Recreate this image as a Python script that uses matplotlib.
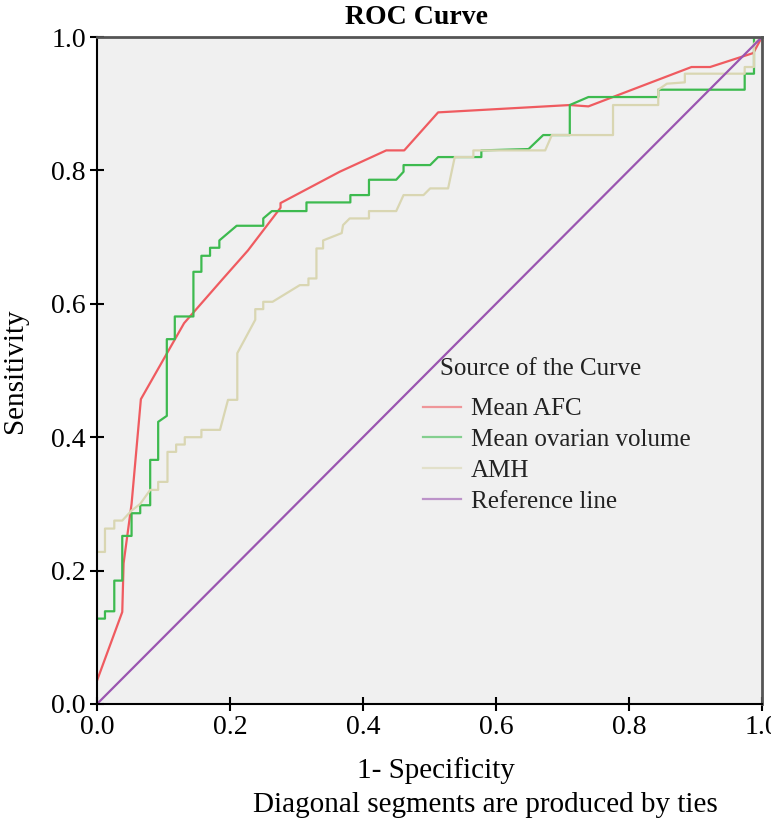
import matplotlib
matplotlib.use('Agg')
import matplotlib.pyplot as plt
from matplotlib.lines import Line2D

# ROC points (1-specificity, sensitivity)
afc_x = [0.0, 0.038, 0.040, 0.052, 0.066, 0.131, 0.188, 0.227, 0.276, 0.276, 0.365,
         0.435, 0.462, 0.513, 0.711, 0.739, 0.894, 0.922, 0.987, 1.0]
afc_y = [0.035, 0.138, 0.211, 0.300, 0.457, 0.571, 0.636, 0.680, 0.744, 0.751, 0.798,
         0.830, 0.830, 0.887, 0.898, 0.896, 0.955, 0.955, 0.976, 1.0]

vol_x = [0.0, 0.012, 0.012, 0.026, 0.026, 0.038, 0.038, 0.052, 0.052, 0.065, 0.065, 0.080,
         0.080, 0.092, 0.092, 0.105, 0.105, 0.117, 0.117, 0.145, 0.145, 0.157, 0.157, 0.170,
         0.170, 0.184, 0.184, 0.210, 0.250, 0.250, 0.263, 0.315, 0.315, 0.381, 0.381, 0.409,
         0.409, 0.450, 0.461, 0.461, 0.501, 0.513, 0.578, 0.578, 0.649, 0.671, 0.711, 0.711,
         0.739, 0.844, 0.844, 0.974, 0.974, 0.988, 0.988, 1.0]
vol_y = [0.128, 0.128, 0.139, 0.139, 0.185, 0.185, 0.252, 0.252, 0.286, 0.286, 0.298, 0.298,
         0.366, 0.366, 0.423, 0.432, 0.547, 0.547, 0.581, 0.581, 0.648, 0.648, 0.672, 0.672,
         0.684, 0.684, 0.695, 0.717, 0.717, 0.728, 0.739, 0.739, 0.752, 0.752, 0.763, 0.763,
         0.786, 0.786, 0.798, 0.808, 0.808, 0.820, 0.820, 0.830, 0.832, 0.853, 0.853, 0.898,
         0.910, 0.910, 0.921, 0.921, 0.945, 0.945, 1.0, 1.0]

amh_x = [0.0, 0.012, 0.012, 0.026, 0.026, 0.038, 0.052, 0.065, 0.080, 0.092, 0.092, 0.106,
         0.106, 0.119, 0.119, 0.132, 0.132, 0.157, 0.157, 0.185, 0.197, 0.211, 0.211, 0.238,
         0.238, 0.250, 0.250, 0.264, 0.305, 0.318, 0.318, 0.330, 0.330, 0.340, 0.340, 0.368,
         0.370, 0.380, 0.409, 0.409, 0.450, 0.461, 0.491, 0.501, 0.528, 0.538, 0.566, 0.566,
         0.674, 0.684, 0.776, 0.776, 0.844, 0.844, 0.857, 0.884, 0.884, 0.974, 0.974, 0.988,
         0.988, 1.0]
amh_y = [0.228, 0.228, 0.263, 0.263, 0.275, 0.275, 0.290, 0.300, 0.321, 0.321, 0.333, 0.333,
         0.378, 0.378, 0.389, 0.389, 0.400, 0.400, 0.411, 0.411, 0.456, 0.456, 0.526, 0.576,
         0.592, 0.592, 0.603, 0.603, 0.628, 0.628, 0.638, 0.638, 0.683, 0.683, 0.695, 0.706,
         0.718, 0.728, 0.728, 0.739, 0.739, 0.763, 0.763, 0.773, 0.773, 0.820, 0.820, 0.830,
         0.830, 0.853, 0.853, 0.898, 0.898, 0.921, 0.930, 0.932, 0.945, 0.945, 0.955, 0.955,
         0.990, 1.0]

ref_x = [0.0, 1.0]
ref_y = [0.0, 1.0]

series = [
    ('Mean AFC', afc_x, afc_y, '#ef5b60'),
    ('Mean ovarian volume', vol_x, vol_y, '#3dba4f'),
    ('AMH', amh_x, amh_y, '#d9d6b2'),
    ('Reference line', ref_x, ref_y, '#9a55b0'),
]

plt.rcParams['font.family'] = ['Liberation Serif', 'DejaVu Serif']

fig = plt.figure(figsize=(7.71, 8.26), dpi=100)
ax = fig.add_axes([0.1258, 0.1477, 0.8625, 0.8075])
ax.set_facecolor('#f0f0f0')

for name, xs, ys, col in series:
    ax.plot(xs, ys, color=col, lw=1.6)

ax.set_xlim(0, 1)
ax.set_ylim(0, 1)
ticks = [0.0, 0.2, 0.4, 0.6, 0.8, 1.0]
ax.set_xticks(ticks)
ax.set_yticks(ticks)
ax.set_xticklabels(['%.1f' % t for t in ticks])
ax.set_yticklabels(['%.1f' % t for t in ticks])
ax.tick_params(direction='inout', length=10, width=1.5, labelsize=20, colors='black', pad=3)
for s in ['left', 'bottom']:
    ax.spines[s].set_linewidth(1.5)
for s in ['top', 'right']:
    ax.spines[s].set_color('#555555')
    ax.spines[s].set_linewidth(2)

ax.set_xlabel('1- Specificity', fontsize=21, va='center')
ax.xaxis.set_label_coords(0.51, -0.099)
ax.set_ylabel('Sensitivity', fontsize=21, va='center')
ax.yaxis.set_label_coords(-0.123, 0.5)

fig.text(0.54, 0.979, 'ROC Curve', fontsize=20, fontweight='bold', ha='center', va='center')
fig.text(0.63, 0.025, 'Diagonal segments are produced by ties', fontsize=21,
         ha='center', va='center')

fig.text(440 / 771, 1 - 369 / 826, 'Source of the Curve', fontsize=18,
         ha='left', va='center', color='#222222')
handles = [Line2D([0], [0], color=c, lw=1.6, alpha=0.6) for _, _, _, c in series]
labels = [n for n, _, _, _ in series]
leg = fig.legend(handles, labels, loc='upper left',
                 bbox_to_anchor=(423 / 771, 1 - 398 / 826), frameon=False, fontsize=18,
                 handlelength=1.5, handletextpad=0.4, borderpad=0, borderaxespad=0,
                 labelspacing=0.33)
for t in leg.get_texts():
    t.set_color('#222222')

fig.savefig('out.png', dpi=100)
